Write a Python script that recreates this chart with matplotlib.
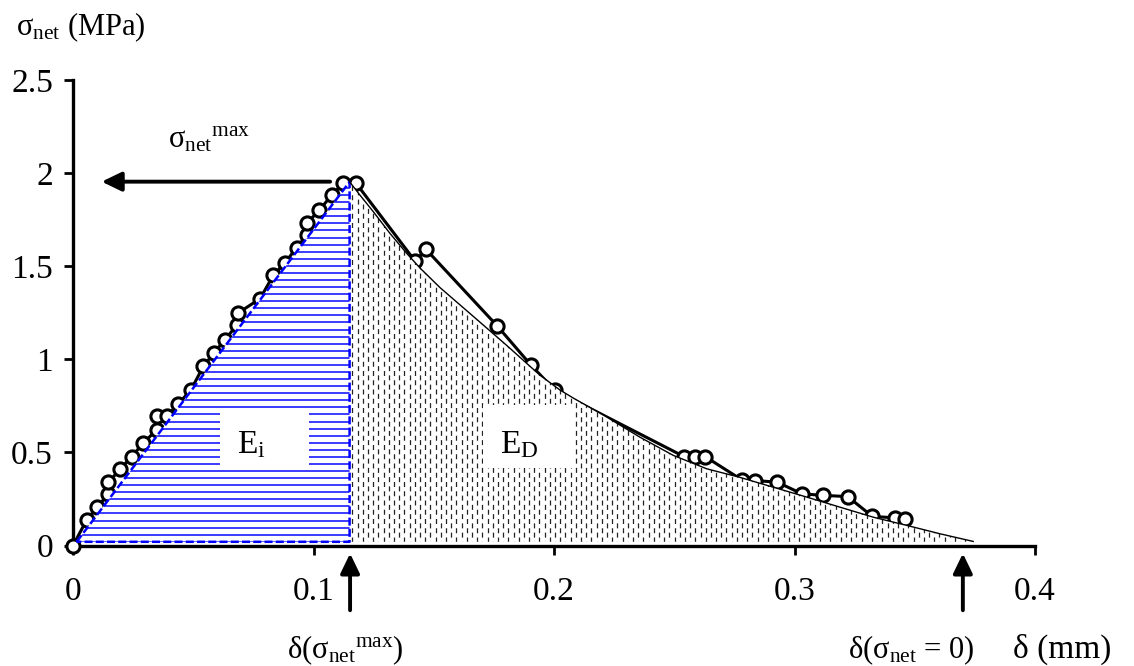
import numpy as np
import matplotlib
matplotlib.use("Agg")
import matplotlib.pyplot as plt
from matplotlib.patches import Polygon, Rectangle

plt.rcParams['font.family'] = 'Liberation Serif'
plt.rcParams['mathtext.fontset'] = 'custom'
plt.rcParams['mathtext.rm'] = 'Liberation Serif'
plt.rcParams['mathtext.it'] = 'Liberation Serif'
plt.rcParams['mathtext.bf'] = 'Liberation Serif:bold'

# measured points: crack opening delta (mm) vs net stress (MPa)
delta = [0.0, 0.0057, 0.0101, 0.0147, 0.0147, 0.0195, 0.0244, 0.0292, 0.0348, 0.0348,
         0.0392, 0.0438, 0.0489, 0.0542, 0.0586, 0.0632, 0.0681, 0.0687, 0.0778, 0.0833,
         0.0881, 0.0930, 0.0972, 0.0974, 0.1024, 0.1076, 0.1124, 0.1177, 0.1422, 0.1468,
         0.1764, 0.1904, 0.2004, 0.2540, 0.2586, 0.2628, 0.2780, 0.2836, 0.2929, 0.3030,
         0.3120, 0.3221, 0.3324, 0.3418, 0.3460]
sigma = [0.0, 0.138, 0.206, 0.278, 0.339, 0.409, 0.478, 0.550, 0.622, 0.694,
         0.694, 0.762, 0.833, 0.962, 1.034, 1.106, 1.183, 1.249, 1.326, 1.452,
         1.518, 1.600, 1.667, 1.733, 1.801, 1.882, 1.945, 1.945, 1.528, 1.590,
         1.179, 0.969, 0.833, 0.478, 0.478, 0.478, 0.353, 0.349, 0.340, 0.278,
         0.269, 0.263, 0.156, 0.149, 0.143]

# smoothed softening branch after the peak
curve_delta = [0.1150, 0.1193, 0.1249, 0.1318, 0.1388, 0.1443, 0.1526, 0.1664, 0.1803,
               0.1942, 0.2025, 0.2080, 0.2219, 0.2357, 0.2496, 0.2635, 0.2773, 0.2912,
               0.3051, 0.3189, 0.3328, 0.3467, 0.3605, 0.3743]
curve_sigma = [1.953, 1.882, 1.792, 1.676, 1.568, 1.490, 1.385, 1.231, 1.075,
               0.914, 0.835, 0.792, 0.690, 0.582, 0.484, 0.412, 0.366, 0.313,
               0.260, 0.206, 0.152, 0.108, 0.063, 0.022]

delta_start = 0.0015
delta_peak = 0.115
sigma_peak = 1.953
delta_zero = 0.370
base = 0.02

x_ticks = [0, 0.1, 0.2, 0.3, 0.4]
x_tick_labels = ['0', '0.1', '0.2', '0.3', '0.4']
y_ticks = [0, 0.5, 1, 1.5, 2, 2.5]
y_tick_labels = ['0', '0.5', '1', '1.5', '2', '2.5']

FS = 22

fig = plt.figure(figsize=(11.34, 6.66), dpi=100)
ax = fig.add_axes([0.0644, 0.1809, 0.8483, 0.6990])

# data
ax.plot(delta, sigma, '-o', color='black', lw=2.2, ms=9.5, mfc='white', mec='black',
        mew=2.2, zorder=2.6, clip_on=False)

# pre-peak energy E_i : triangle with blue horizontal hatch
tri = Polygon([(delta_start, base), (delta_peak, sigma_peak), (delta_peak, base)],
              closed=True, facecolor='white', edgecolor='none', zorder=3)
ax.add_patch(tri)
hl = ax.hlines(np.arange(base, sigma_peak, 0.038), 0, delta_peak, colors='#1a1aff',
               lw=1.2, zorder=3.1)
hl.set_clip_path(tri)

# post-peak energy E_D : area under softening curve with dotted vertical hatch
ed_pts = [(delta_peak, base)] + list(zip(curve_delta, curve_sigma)) + [(curve_delta[-1], base)]
ed = Polygon(ed_pts, closed=True, facecolor='white', edgecolor='none', zorder=3)
ax.add_patch(ed)
xs = np.arange(delta_peak + 0.0012, curve_delta[-1], 0.00216)
vl1 = ax.vlines(xs[::2], base, sigma_peak, colors='#222222', lw=0.9,
                linestyles=[(0, (4, 3.4))], zorder=3.1)
vl2 = ax.vlines(xs[1::2], base, sigma_peak, colors='#222222', lw=0.9,
                linestyles=[(3.5, (4, 3.4))], zorder=3.1)
vl1.set_clip_path(ed)
vl2.set_clip_path(ed)

# outlines
ax.plot([delta_start, delta_peak, delta_peak, delta_start],
        [base, sigma_peak, base, base], color='blue', lw=1.8,
        ls=(0, (3.2, 1.3)), zorder=4)
ax.plot(curve_delta, curve_sigma, color='black', lw=1.0, zorder=4)

# label boxes
ax.add_patch(Rectangle((0.0611, 0.432), 0.0370, 0.285, fc='white', ec='none', zorder=5))
ax.add_patch(Rectangle((0.1705, 0.416), 0.0374, 0.339, fc='white', ec='none', zorder=5))
ax.text(0.0742, 0.495, r'$\mathrm{E_i}$', fontsize=24, ha='center', va='baseline', zorder=6)
ax.text(0.1855, 0.495, r'$\mathrm{E_D}$', fontsize=24, ha='center', va='baseline', zorder=6)

# arrows
arrow = dict(arrowstyle='-|>,head_length=0.6,head_width=0.29', lw=2.8, color='black',
             shrinkA=0, shrinkB=0, mutation_scale=20)
ax.annotate('', xy=(0.0119, 1.954), xytext=(0.1069, 1.954), arrowprops=arrow, zorder=6)
trans = ax.get_xaxis_transform()
for xa in [delta_peak + 0.0002, delta_zero]:
    ax.annotate('', xy=(xa, -0.017), xytext=(xa, -0.139), xycoords=trans,
                textcoords=trans, arrowprops=arrow, annotation_clip=False)

ax.text(0.0395, 2.135, r'$\mathrm{σ_{net}}^{\mathrm{max}}$', fontsize=FS,
        ha='left', va='baseline')

# axes style
ax.set_xlim(0, 0.4)
ax.set_ylim(0, 2.5)
ax.set_xticks(x_ticks)
ax.set_xticklabels(x_tick_labels)
ax.set_yticks(y_ticks)
ax.set_yticklabels(y_tick_labels)
for s in ['top', 'right']:
    ax.spines[s].set_visible(False)
for s in ['left', 'bottom']:
    ax.spines[s].set_linewidth(2.4)
ax.tick_params(direction='out', length=6.5, width=2, labelsize=24)
ax.tick_params(axis='x', pad=16)
ax.tick_params(axis='y', pad=8)

# axis titles
fig.text(0.0141, 0.9474, r'$\mathrm{σ_{net}}$ (MPa)', fontsize=FS, ha='left', va='baseline')
fig.text(0.3042, 0.012, r'δ($\mathrm{σ_{net}}^{\mathrm{max}}$)', fontsize=FS,
         ha='center', va='baseline')
fig.text(0.8034, 0.012, r'δ($\mathrm{σ_{net}}$ = 0)', fontsize=FS, ha='center', va='baseline')
fig.text(0.8933, 0.012, 'δ (mm)', fontsize=24, ha='left', va='baseline')

fig.savefig('out.png', dpi=100)
